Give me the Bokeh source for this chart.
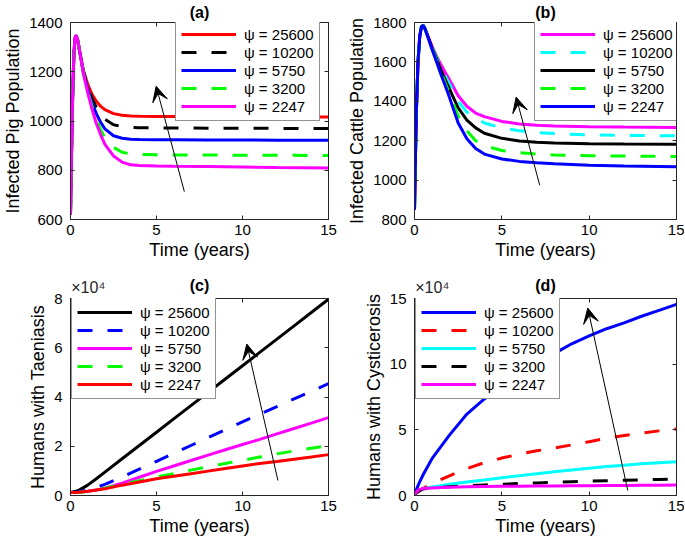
from bokeh.plotting import figure
from bokeh.layouts import gridplot
from bokeh.models import Range1d, FixedTicker, LinearAxis, Arrow, VeeHead
from bokeh.embed import file_html
from bokeh.resources import INLINE

FONT = "Liberation Sans"
AX = "#262626"

psi_labels = ["ψ = 25600", "ψ = 10200", "ψ = 5750", "ψ = 3200", "ψ = 2247"]
x_ticks = [0, 5, 10, 15]
exponent_text = "×10⁴"

# ---------- (a) Infected Pig Population ----------
t_a = [0, 0.05, 0.1, 0.15, 0.2, 0.25, 0.3, 0.4, 0.5, 0.75, 1.0, 1.25, 1.5, 1.75,
       2.0, 2.5, 3.0, 3.5, 4.0, 5.0, 6.0, 8.0, 10.0, 12.0, 15.0]
pig_25600 = [620, 830, 1020, 1170, 1275, 1330, 1348, 1335, 1295, 1205, 1150, 1108, 1080, 1060,
             1046, 1030, 1023, 1020, 1019, 1018, 1018, 1017, 1017, 1016, 1016]
pig_10200 = [620, 830, 1020, 1170, 1275, 1330, 1348, 1335, 1295, 1200, 1140, 1092, 1055, 1027,
             1007, 985, 977, 974, 973, 972, 972, 971, 971, 970, 970]
pig_5750 = [620, 830, 1020, 1170, 1275, 1330, 1348, 1335, 1295, 1198, 1130, 1075, 1030, 995,
            968, 940, 930, 926, 925, 924, 924, 923, 923, 922, 922]
pig_3200 = [620, 830, 1020, 1170, 1275, 1330, 1348, 1335, 1295, 1195, 1122, 1060, 1008, 965,
            932, 893, 873, 866, 864, 863, 862, 862, 861, 861, 860]
pig_2247 = [620, 830, 1020, 1170, 1275, 1330, 1348, 1335, 1295, 1192, 1115, 1048, 990, 945,
            905, 858, 833, 822, 819, 817, 816, 815, 813, 811, 809]
pig_ticks = [600, 800, 1000, 1200, 1400]
pig_arrow = [6.62, 713, 4.98, 1141]

# ---------- (b) Infected Cattle Population ----------
t_b = [0, 0.05, 0.1, 0.2, 0.3, 0.4, 0.5, 0.6, 0.8, 1.0, 1.25, 1.5, 1.75, 2.0, 2.5, 3.0,
       3.5, 4.0, 5.0, 6.0, 7.0, 8.0, 10.0, 12.0, 15.0]
cattle_25600 = [850, 1100, 1330, 1600, 1730, 1780, 1785, 1768, 1725, 1680, 1632, 1588, 1548, 1510,
                1428, 1375, 1340, 1322, 1298, 1285, 1279, 1275, 1271, 1269, 1267]
cattle_10200 = [850, 1100, 1330, 1600, 1730, 1780, 1785, 1768, 1723, 1676, 1625, 1575, 1530, 1488,
                1400, 1345, 1315, 1290, 1265, 1250, 1242, 1236, 1230, 1227, 1225]
cattle_5750 = [850, 1100, 1330, 1600, 1730, 1780, 1785, 1768, 1721, 1672, 1618, 1562, 1512, 1463,
               1367, 1305, 1265, 1238, 1212, 1199, 1192, 1188, 1185, 1183, 1182]
cattle_3200 = [850, 1100, 1330, 1600, 1730, 1780, 1785, 1768, 1719, 1668, 1610, 1550, 1495, 1440,
               1325, 1250, 1200, 1175, 1150, 1139, 1132, 1128, 1124, 1122, 1120]
cattle_2247 = [850, 1100, 1330, 1600, 1730, 1780, 1785, 1768, 1717, 1664, 1603, 1540, 1482, 1420,
               1290, 1210, 1160, 1132, 1107, 1095, 1088, 1083, 1076, 1072, 1068]
cattle_ticks = [800, 1000, 1200, 1400, 1600, 1800]
cattle_arrow = [7.17, 974, 5.82, 1421]

# ---------- (c) Humans with Taeniasis (x 10^4) ----------
t_cd = [0, 0.25, 0.5, 1, 1.5, 2, 3, 4, 5, 6, 7, 8, 9, 10, 11, 12, 13, 14, 15]
taen_25600 = [0.12, 0.16, 0.22, 0.42, 0.68, 0.95, 1.49, 2.03, 2.57, 3.11, 3.65, 4.19, 4.73, 5.27,
              5.81, 6.35, 6.89, 7.43, 7.97]
taen_10200 = [0.12, 0.13, 0.15, 0.22, 0.33, 0.45, 0.75, 1.07, 1.39, 1.71, 2.03, 2.35, 2.67, 2.99,
              3.30, 3.61, 3.92, 4.23, 4.54]
taen_5750 = [0.12, 0.12, 0.13, 0.17, 0.22, 0.30, 0.50, 0.74, 0.98, 1.20, 1.42, 1.64, 1.86, 2.07,
             2.28, 2.50, 2.72, 2.94, 3.16]
taen_3200 = [0.12, 0.12, 0.13, 0.16, 0.22, 0.30, 0.45, 0.60, 0.75, 0.89, 1.03, 1.17, 1.30, 1.43,
             1.56, 1.69, 1.81, 1.92, 2.03]
taen_2247 = [0.12, 0.12, 0.13, 0.17, 0.22, 0.27, 0.42, 0.55, 0.68, 0.78, 0.88, 0.99, 1.10, 1.20,
             1.30, 1.38, 1.47, 1.56, 1.66]
taen_ticks = [0, 2, 4, 6, 8]
taen_arrow = [12.06, 0.61, 10.25, 6.15]

# ---------- (d) Humans with Cysticerosis (x 10^4) ----------
cyst_25600 = [0.10, 0.90, 1.60, 2.80, 3.70, 4.60, 6.20, 7.35, 8.40, 9.30, 10.10, 10.80, 11.55,
              12.15, 12.70, 13.15, 13.65, 14.10, 14.55]
cyst_10200 = [0.10, 0.30, 0.55, 0.90, 1.20, 1.50, 2.05, 2.50, 2.85, 3.15, 3.40, 3.62, 3.85, 4.10,
              4.35, 4.57, 4.75, 4.92, 5.07]
cyst_5750 = [0.10, 0.35, 0.52, 0.65, 0.75, 0.85, 1.02, 1.18, 1.35, 1.50, 1.65, 1.80, 1.95, 2.08,
             2.20, 2.31, 2.41, 2.50, 2.57]
cyst_3200 = [0.10, 0.35, 0.50, 0.58, 0.62, 0.66, 0.74, 0.80, 0.86, 0.91, 0.96, 1.00, 1.05, 1.09,
             1.13, 1.16, 1.19, 1.22, 1.25]
cyst_2247 = [0.10, 0.45, 0.53, 0.58, 0.61, 0.63, 0.66, 0.68, 0.70, 0.71, 0.72, 0.73, 0.74, 0.75,
             0.76, 0.77, 0.78, 0.785, 0.79]
cyst_ticks = [0, 5, 10, 15]
cyst_arrow = [12.21, 0.38, 9.92, 14.27]

NBSP = "\u00a0"


def panel(title, ylabel, y_ticks, width, height, bl, br, bt, bb, exponent=False):
    p = figure(width=width, height=height, x_range=Range1d(0, 15),
               y_range=Range1d(y_ticks[0], y_ticks[-1]),
               output_backend="svg", toolbar_location=None,
               min_border_left=bl, min_border_right=br, min_border_top=bt, min_border_bottom=bb)
    p.title.text = "" if exponent else title
    p.title.align = "center"
    p.title.text_font = FONT
    p.title.text_font_size = "16px"
    p.title.text_font_style = "bold"
    p.title.text_color = "black"
    p.title.standoff = 3
    p.grid.visible = False
    p.outline_line_color = AX
    p.outline_line_width = 1
    p.background_fill_color = "white"
    p.border_fill_color = "white"
    p.xaxis.ticker = FixedTicker(ticks=x_ticks)
    p.yaxis.ticker = FixedTicker(ticks=y_ticks)
    p.xaxis.axis_label = "Time (years)"
    p.yaxis.axis_label = ylabel
    for ax in (p.xaxis[0], p.yaxis[0]):
        ax.axis_line_color = AX
        ax.major_tick_line_color = AX
        ax.major_tick_in = 4
        ax.major_tick_out = 0
        ax.minor_tick_line_color = None
        ax.major_label_text_font = FONT
        ax.major_label_text_font_size = "15px"
        ax.major_label_text_color = "black"
        ax.axis_label_text_font = FONT
        ax.axis_label_text_font_size = "18px"
        ax.axis_label_text_font_style = "normal"
        ax.axis_label_text_color = "black"
    p.xaxis.major_label_standoff = 5
    p.xaxis.axis_label_standoff = 2
    p.yaxis.major_label_standoff = 8
    p.yaxis.axis_label_standoff = 3
    # ticks on the right edge (box on)
    p.add_layout(LinearAxis(ticker=FixedTicker(ticks=y_ticks), axis_line_color=AX,
                            major_tick_line_color=AX, major_tick_in=4, major_tick_out=0,
                            minor_tick_line_color=None, major_label_text_font_size="0px",
                            major_label_text_alpha=0, major_label_standoff=0), "right")
    # top edge: ticks, and for (c)/(d) the x10^4 exponent plus the panel letter
    top = LinearAxis(ticker=FixedTicker(ticks=x_ticks), axis_line_color=AX,
                     major_tick_line_color=AX, major_tick_in=4, major_tick_out=0,
                     minor_tick_line_color=None)
    if exponent:
        overrides = {tk: "" for tk in x_ticks}
        overrides[x_ticks[0]] = NBSP * 8 + exponent_text
        top.major_label_overrides = overrides
        top.major_label_text_font = FONT
        top.major_label_text_font_size = "16px"
        top.major_label_text_color = AX
        top.major_label_standoff = 3
        top.axis_label = title
        top.axis_label_text_font = FONT
        top.axis_label_text_font_size = "16px"
        top.axis_label_text_font_style = "bold"
        top.axis_label_text_color = "black"
        top.axis_label_standoff = -18
    else:
        top.major_label_text_font_size = "0px"
        top.major_label_text_alpha = 0
        top.major_label_standoff = 0
    p.add_layout(top, "above")
    return p


def add_lines(p, t, series, colors, dashes):
    for ys, c, d, lab in zip(series, colors, dashes, psi_labels):
        p.line(t, ys, line_color=c, line_width=3, line_dash=d, legend_label=lab)


def style_legend(p, loc):
    leg = p.legend[0]
    leg.location = loc
    leg.glyph_width = 55
    leg.glyph_height = 18
    leg.label_height = 18
    leg.label_standoff = 8
    leg.padding = 5
    leg.spacing = 0
    leg.margin = 0
    leg.label_text_font = FONT
    leg.label_text_font_size = "15px"
    leg.label_text_color = "black"
    leg.border_line_color = AX
    leg.border_line_width = 1
    leg.background_fill_color = "white"
    leg.background_fill_alpha = 1.0


def add_arrow(p, a):
    p.add_layout(Arrow(end=VeeHead(size=15, fill_color="black", line_color="black"),
                       x_start=a[0], y_start=a[1], x_end=a[2], y_end=a[3],
                       line_color="black", line_width=1))


SOLID, DASH = "solid", "15 15"

pa = panel("(a)", "Infected Pig Population", pig_ticks, 340, 270, 66, 12, 21, 51)
add_lines(pa, t_a, [pig_25600, pig_10200, pig_5750, pig_3200, pig_2247],
          ["#FF0000", "#000000", "#0000FF", "#00FF00", "#FF00FF"],
          [SOLID, DASH, SOLID, DASH, SOLID])
style_legend(pa, (105, 98))
add_arrow(pa, pig_arrow)

pb = panel("(b)", "Infected Cattle Population", cattle_ticks, 344, 270, 74, 8, 21, 51)
add_lines(pb, t_b, [cattle_25600, cattle_10200, cattle_5750, cattle_3200, cattle_2247],
          ["#FF00FF", "#00FFFF", "#000000", "#00FF00", "#0000FF"],
          [SOLID, DASH, SOLID, DASH, SOLID])
style_legend(pb, (120, 98))
add_arrow(pb, cattle_arrow)

pc = panel("(c)", "Humans with Taeniasis", taen_ticks, 340, 275, 66, 12, 28, 50, exponent=True)
add_lines(pc, t_cd, [taen_25600, taen_10200, taen_5750, taen_3200, taen_2247],
          ["#000000", "#0000FF", "#FF00FF", "#00FF00", "#FF0000"],
          [SOLID, DASH, SOLID, DASH, SOLID])
style_legend(pc, (1, 96))
add_arrow(pc, taen_arrow)

pd_ = panel("(d)", "Humans with Cysticerosis", cyst_ticks, 344, 275, 74, 8, 28, 50, exponent=True)
add_lines(pd_, t_cd, [cyst_25600, cyst_10200, cyst_5750, cyst_3200, cyst_2247],
          ["#0000FF", "#FF0000", "#00FFFF", "#000000", "#FF00FF"],
          [SOLID, DASH, SOLID, DASH, SOLID])
style_legend(pd_, (1, 96))
add_arrow(pd_, cyst_arrow)

layout = gridplot([[pa, pb], [pc, pd_]], toolbar_location=None)

open("out.html", "w").write(file_html(layout, INLINE))
